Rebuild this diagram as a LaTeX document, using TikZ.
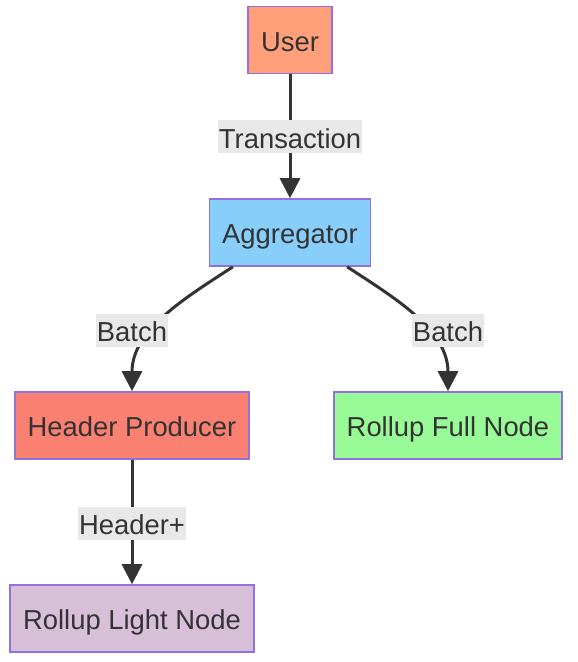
\documentclass[tikz,border=0pt]{standalone}
\usepackage{fontspec}
\setmainfont{Liberation Sans}
\usepackage{tikz}
\usetikzlibrary{arrows.meta}
\definecolor{txt}{HTML}{333333}
\definecolor{border}{HTML}{9370DB}
\definecolor{lblbg}{HTML}{E8E8E8}
\definecolor{usercol}{HTML}{FFA07A}
\definecolor{aggcol}{HTML}{87CEFA}
\definecolor{hpcol}{HTML}{FA8072}
\definecolor{fullcol}{HTML}{98FB98}
\definecolor{lightcol}{HTML}{D8BFD8}

\begin{document}
\begin{tikzpicture}[x=0.5pt, y=-0.5pt,
	box/.style={draw=border, line width=0.8pt, text=txt, inner xsep=6.4pt, inner ysep=0pt, minimum height=33.5pt, text height=12.6pt, text depth=1.3pt, font=\fontsize{13.7}{16}\selectfont},
	lbl/.style={fill=lblbg, text=txt, inner xsep=0.4pt, inner ysep=0pt, minimum height=16.5pt, text height=12.6pt, text depth=1.3pt, font=\fontsize{13.7}{16}\selectfont},
	edge/.style={draw=txt, line width=1.5pt, -{Triangle[length=10pt, width=10pt]}}]
	\useasboundingbox (0,0) rectangle (577,662);
	\node[box, fill=usercol] (user) at (290, 40) {User};
	\node[box, fill=aggcol] (agg) at (290, 232.5) {Aggregator};
	\node[box, fill=hpcol] (hp) at (132, 425.5) {Header Producer};
	\node[box, fill=fullcol] (full) at (448, 425.5) {Rollup Full Node};
	\node[box, fill=lightcol] (light) at (132, 618.5) {Rollup Light Node};
	
	\draw[edge] (user) -- (agg);
	\draw[edge] (agg.211) .. controls (185, 298) and (132, 330) .. (hp.north);
	\draw[edge] (agg.329) .. controls (395, 298) and (448, 330) .. (full.north);
	\draw[edge] (hp) -- (light);
	
	\node[lbl] (tx) at (290, 137) {Transaction};
	\node[lbl] (batchhp) at (132, 330) {Batch};
	\node[lbl] (batchfull) at (448, 330) {Batch};
	\node[lbl] (header) at (132, 523) {Header+};
\end{tikzpicture}
\end{document}
